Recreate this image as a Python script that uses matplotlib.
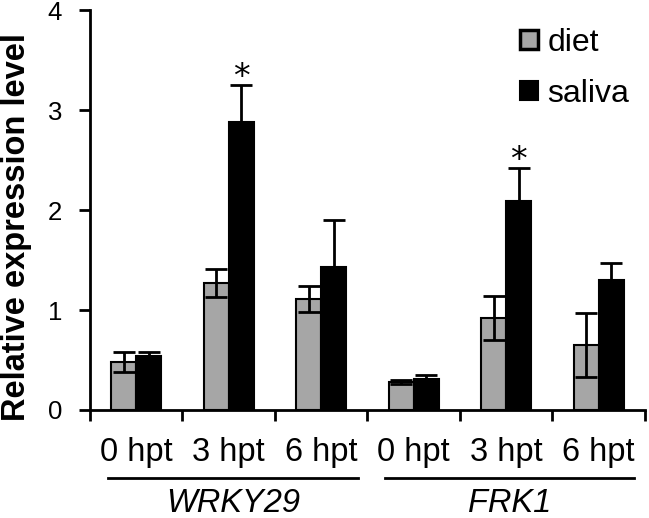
import matplotlib

matplotlib.use("Agg")
import matplotlib.pyplot as plt
import matplotlib.transforms as mtransforms
import numpy as np

plt.rcParams["font.family"] = ["Liberation Sans", "DejaVu Sans"]

genes = ["WRKY29", "FRK1"]
times = ["0 hpt", "3 hpt", "6 hpt"]
diet = [0.48, 1.27, 1.11, 0.28, 0.92, 0.65]
diet_err = [0.10, 0.14, 0.13, 0.02, 0.22, 0.32]
saliva = [0.54, 2.88, 1.43, 0.31, 2.09, 1.30]
saliva_err = [0.04, 0.37, 0.47, 0.04, 0.33, 0.17]
significant = [False, True, False, False, True, False]

fig = plt.figure(figsize=(6.49, 5.18), dpi=100)
ax = fig.add_axes([0.1387, 0.2085, 0.855, 0.772])

x = np.arange(len(diet)) + 0.5
w = 0.27
err_kw = dict(ecolor="black", elinewidth=2, capsize=8, capthick=2)
ax.bar(x - w / 2, diet, w, yerr=diet_err, color="#a6a6a6", edgecolor="black",
       linewidth=1.5, label="diet", error_kw=err_kw, zorder=2)
ax.bar(x + w / 2, saliva, w, yerr=saliva_err, color="black", edgecolor="black",
       linewidth=1.5, label="saliva", error_kw=err_kw, zorder=2)

# significance marks above the saliva error bars
for xi, s, e, sig in zip(x, saliva, saliva_err, significant):
    if sig:
        ax.text(xi + w / 2, s + e - 0.02, "*", ha="center", va="baseline",
                fontsize=24, family="DejaVu Sans")

ax.set_xlim(0, 6)
ax.set_ylim(0, 4)
ax.set_yticks([0, 1, 2, 3, 4])
ax.set_xticks(np.arange(7))
ax.set_xticklabels([])
ax.tick_params(axis="both", direction="out", length=8, width=2, labelsize=18.5, pad=12)
for side in ["top", "right"]:
    ax.spines[side].set_visible(False)
for side in ["left", "bottom"]:
    ax.spines[side].set_linewidth(2)
ax.set_ylabel("Relative expression level", fontsize=23.5, fontweight="bold")
ax.yaxis.set_label_coords(-0.105, 0.457)

trans = mtransforms.blended_transform_factory(ax.transData, ax.transAxes)
for i, xi in enumerate(x):
    ax.text(xi, -0.1075, times[i % 3], transform=trans, ha="center", va="center",
            fontsize=23.5)
for g, gene in enumerate(genes):
    x0, x1 = 0.19 + 3 * g, 2.9 + 2.98 * g
    ax.plot([x0, x1], [-0.17, -0.17], color="black", lw=2, transform=trans, clip_on=False)
    ax.text((x0 + x1) / 2, -0.235, gene, transform=trans, ha="center", va="center",
            fontsize=23.5, style="italic")

leg = ax.legend(loc="upper left", bbox_to_anchor=(0.775, 0.955), frameon=False, fontsize=23,
                handlelength=0.55, handleheight=0.55, handletextpad=0.3, labelspacing=0.65,
                borderpad=0, borderaxespad=0)
leg.legend_handles[0].set_linewidth(2.5)

fig.savefig("out.png", dpi=100)
